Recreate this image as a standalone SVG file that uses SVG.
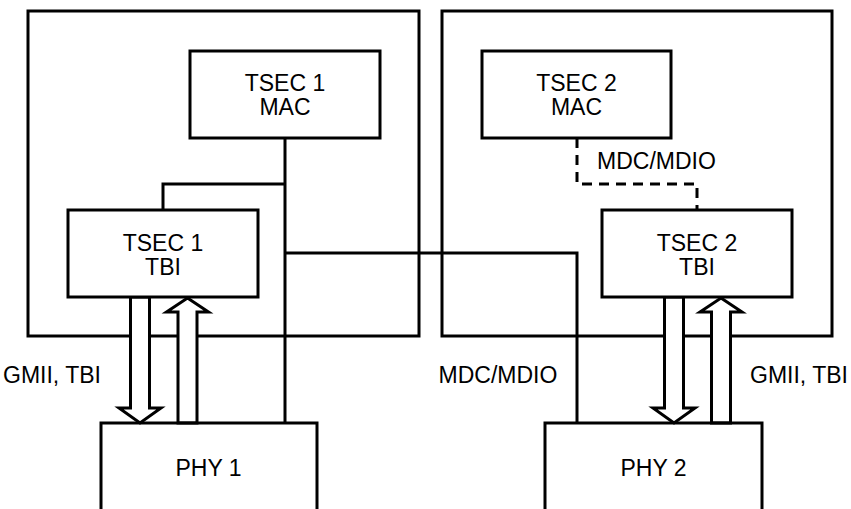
<svg xmlns="http://www.w3.org/2000/svg" width="851" height="509" viewBox="0 0 851 509">
<style>
.box{fill:#fff;stroke:#000;stroke-width:3}
.frame{fill:none;stroke:#000;stroke-width:3}
.ln{fill:none;stroke:#000;stroke-width:3}
.dash{fill:none;stroke:#000;stroke-width:3;stroke-dasharray:10 7}
.arr{fill:#fff;stroke:#000;stroke-width:3;stroke-linejoin:miter}
text{font-family:"Liberation Sans",Arial,Helvetica,sans-serif;font-size:23px;fill:#000}
.c{text-anchor:middle}
</style>
<rect width="851" height="509" fill="#fff"/>
<g id="chip1"><rect class="frame" x="28" y="11" width="391" height="325"/></g>
<g id="chip2"><rect class="frame" x="442" y="11" width="390" height="325"/></g>
<g id="connectors">
<path class="ln" d="M285,138 V423"/>
<path class="ln" d="M163,210 V184 H285"/>
<path class="ln" d="M285,253 H577 V423"/>
<path class="dash" d="M577,138 V184 H697 V210"/>
<polygon class="arr" points="130.5,297 149.5,297 149.5,408 161,408 140,423 119,408 130.5,408"/>
<polygon class="arr" points="187.5,298 208.5,312 197,312 197,423 178,423 178,312 166.5,312"/>
<polygon class="arr" points="664.5,297 683.5,297 683.5,408 695,408 674,423 653,408 664.5,408"/>
<polygon class="arr" points="721,298 742,312 730.5,312 730.5,423 711.5,423 711.5,312 700,312"/>
<text x="52" y="383" class="c">GMII, TBI</text>
<text x="498" y="383" class="c">MDC/MDIO</text>
<text x="799" y="383" class="c">GMII, TBI</text>
<text x="597" y="169">MDC/MDIO</text>
</g>
<g id="tsec1-mac"><rect class="box" x="190" y="51" width="190" height="87"/><text x="285" y="91" class="c">TSEC 1</text><text x="285" y="115" class="c">MAC</text></g>
<g id="tsec2-mac"><rect class="box" x="482" y="51" width="189" height="87"/><text x="576.5" y="91" class="c">TSEC 2</text><text x="576.5" y="115" class="c">MAC</text></g>
<g id="tsec1-tbi"><rect class="box" x="68" y="210" width="190" height="87"/><text x="163" y="251" class="c">TSEC 1</text><text x="163" y="275" class="c">TBI</text></g>
<g id="tsec2-tbi"><rect class="box" x="602" y="210" width="190" height="87"/><text x="697" y="251" class="c">TSEC 2</text><text x="697" y="275" class="c">TBI</text></g>
<g id="phy1"><path class="ln" d="M101,511 V423 H317 V511"/><text x="208.5" y="476" class="c">PHY 1</text></g>
<g id="phy2"><path class="ln" d="M545,511 V423 H762 V511"/><text x="653.5" y="476" class="c">PHY 2</text></g>
</svg>
